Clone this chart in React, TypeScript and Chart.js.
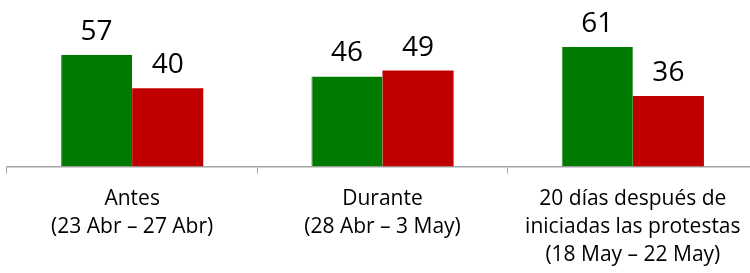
import React, { useEffect, useRef } from "react";
import { Chart, registerables } from "chart.js";

Chart.register(...registerables);

const categories: string[][] = [
  ["Antes", "(23 Abr – 27 Abr)"],
  ["Durante", "(28 Abr – 3 May)"],
  ["20 días después de", "iniciadas las protestas", "(18 May – 22 May)"],
];
const greenValues = [57, 46, 61];
const redValues = [40, 49, 36];

const FONT = "'Open Sans', sans-serif";

const valueLabels = {
  id: "valueLabels",
  afterDatasetsDraw(chart: any) {
    const ctx = chart.ctx;
    ctx.save();
    ctx.font = `28px ${FONT}`;
    ctx.fillStyle = "#000000";
    ctx.textAlign = "center";
    ctx.textBaseline = "alphabetic";
    chart.data.datasets.forEach((ds: any, di: number) => {
      const meta = chart.getDatasetMeta(di);
      meta.data.forEach((bar: any, i: number) => {
        ctx.fillText(String(ds.data[i]), bar.x, bar.y - 15);
      });
    });
    ctx.restore();
  },
};

export default function App() {
  const ref = useRef<HTMLCanvasElement>(null);
  useEffect(() => {
    document.body.style.margin = "0";
    const chart = new Chart(ref.current!, {
      type: "bar",
      data: {
        labels: categories,
        datasets: [
          {
            data: greenValues,
            backgroundColor: "#007A00",
            borderColor: "#2E9A2E",
            borderWidth: { left: 1, top: 0, right: 0, bottom: 0 },
            categoryPercentage: 0.568,
            barPercentage: 1,
          },
          {
            data: redValues,
            backgroundColor: "#C00000",
            categoryPercentage: 0.568,
            barPercentage: 1,
          },
        ],
      },
      options: {
        animation: false,
        responsive: false,
        layout: { padding: { left: 7, right: 0, top: 0, bottom: 0 } },
        plugins: { legend: { display: false }, tooltip: { enabled: false } },
        scales: {
          y: { display: false, min: 0, max: 85 },
          x: {
            offset: true,
            grid: {
              offset: true,
              drawOnChartArea: false,
              drawTicks: true,
              tickLength: 7,
              color: "#A6A6A6",
            },
            border: { color: "#A6A6A6", width: 1.5 },
            ticks: {
              color: "#000000",
              font: { family: FONT, size: 21, lineHeight: 1.32 },
              padding: 12,
              maxRotation: 0,
              autoSkip: false,
            },
            afterFit(scale: any) {
              scale.height = 273 - 166.5;
            },
          },
        },
      },
      plugins: [valueLabels],
    });
    return () => chart.destroy();
  }, []);
  return (
    <div style={{ width: 750, height: 273, overflow: "hidden" }}>
      <canvas ref={ref} width={758} height={273} style={{ width: 758, height: 273, display: "block" }} />
    </div>
  );
}
